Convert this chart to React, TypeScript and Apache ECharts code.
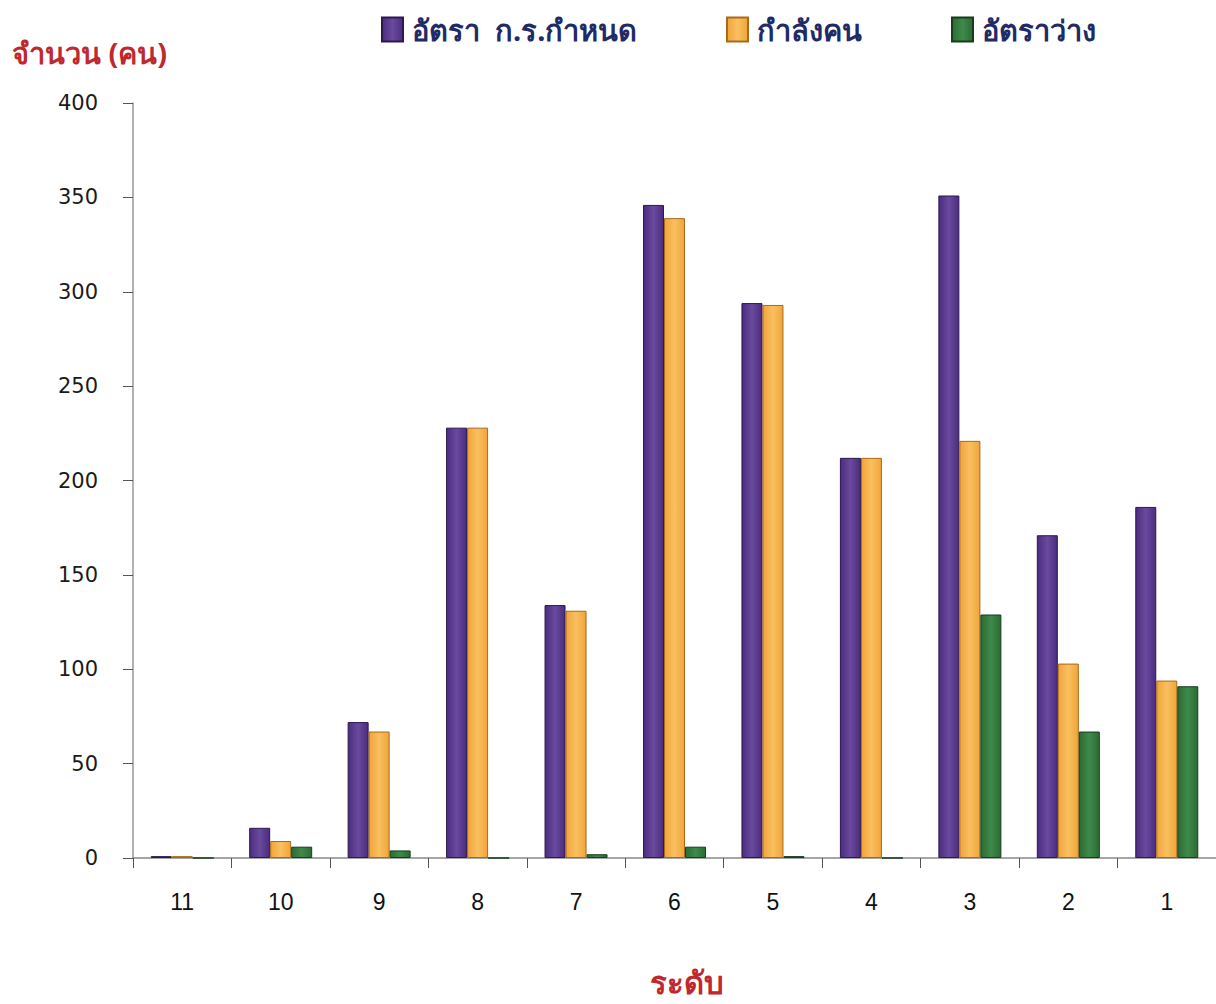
import React, { useEffect, useRef } from "react";
import * as echarts from "echarts";

const categories = ["11", "10", "9", "8", "7", "6", "5", "4", "3", "2", "1"];
const seriesNames = ["อัตรา  ก.ร.กำหนด", "กำลังคน", "อัตราว่าง"];
const setRate = [1, 16, 72, 228, 134, 346, 294, 212, 351, 171, 186];
const manpower = [1, 9, 67, 228, 131, 339, 293, 212, 221, 103, 94];
const vacancy = [0, 6, 4, 0, 2, 6, 1, 0, 129, 67, 91];
const yTicks = { min: 0, max: 400, interval: 50 };

const colors = ["#4b2c7e", "#f2a43a", "#2c6b35"];
const borders = ["#2d1850", "#a86a18", "#173d1d"];
const lights = ["#6a4a9e", "#f8c060", "#3f8a4a"];

const THAI = "'Noto Sans', 'DejaVu Sans', sans-serif";

export default function App() {
  const ref = useRef<HTMLDivElement>(null);
  useEffect(() => {
    if (!ref.current) return;
    const chart = echarts.init(ref.current, undefined, { renderer: "svg" });
    const data = [setRate, manpower, vacancy];
    const legendLefts = [376, 721, 946];
    chart.setOption({
      animation: false,
      backgroundColor: "#ffffff",
      legend: seriesNames.map((n, i) => ({
        data: [n],
        left: legendLefts[i],
        top: 10,
        itemWidth: 21,
        itemHeight: 24,
        itemGap: 14,
        icon: "rect",
        textStyle: { fontSize: 29, fontWeight: "bold", color: "#1f2a66", fontFamily: THAI, padding: [0, 0, 0, 4] },
      })),
      grid: { left: 133, right: -6, top: 103, bottom: 146, containLabel: false },
      xAxis: {
        type: "category",
        data: categories,
        axisLine: { show: true, lineStyle: { color: "#888", width: 1.5 } },
        axisTick: { show: true, length: 10, interval: 0, lineStyle: { color: "#555" } },
        axisLabel: { margin: 32, fontSize: 23, color: "#111", fontFamily: "'Liberation Sans', sans-serif" },
      },
      yAxis: {
        type: "value",
        min: yTicks.min,
        max: yTicks.max,
        interval: yTicks.interval,
        axisLine: { show: true, lineStyle: { color: "#999", width: 1.5 } },
        axisTick: { show: true, length: 10, lineStyle: { color: "#555" } },
        splitLine: { show: false },
        axisLabel: { margin: 35, fontSize: 21, fontWeight: "normal", color: "#1a1a1a", fontFamily: "'DejaVu Sans', sans-serif" },
      },
      graphic: [
        {
          type: "text",
          left: 12,
          top: 38,
          style: { text: "จำนวน (คน)", fontSize: 29, fontWeight: "bold", fill: "#c0282e", fontFamily: THAI },
        },
        {
          type: "text",
          left: 650,
          top: 966,
          style: { text: "ระดับ", fontSize: 31, fontWeight: "bold", fill: "#c0282e", fontFamily: THAI },
        },
      ],
      series: seriesNames.map((n, i) => ({
        name: n,
        type: "bar",
        data: data[i],
        barWidth: 21,
        barGap: "0%",
        itemStyle: {
          color: new echarts.graphic.LinearGradient(0, 0, 1, 0, [
            { offset: 0, color: colors[i] },
            { offset: 0.5, color: lights[i] },
            { offset: 1, color: colors[i] },
          ]),
          borderColor: borders[i],
          borderWidth: 1,
        },
      })),
    });
    return () => chart.dispose();
  }, []);
  return (
    <div
      ref={ref}
      style={{ position: "fixed", left: 0, top: 0, width: 1216, height: 1004, background: "#fff" }}
    />
  );
}
